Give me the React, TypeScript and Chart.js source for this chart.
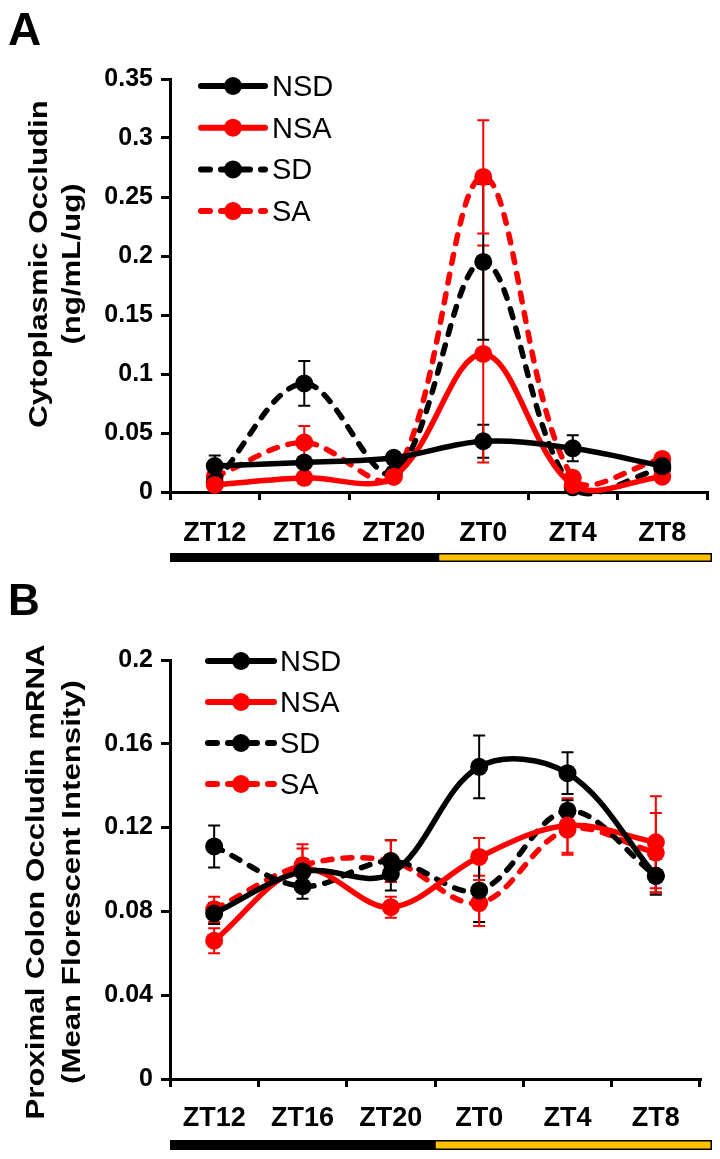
import React, { useEffect, useRef } from 'react';
import { Chart, registerables } from 'chart.js';
Chart.register(...registerables);

const FONT = "'Liberation Sans', Arial, Helvetica, sans-serif";

const categories = ['ZT12', 'ZT16', 'ZT20', 'ZT0', 'ZT4', 'ZT8'];
const seriesNames = ['NSD', 'NSA', 'SD', 'SA'];

// Panel A: Cytoplasmic Occludin (ng/mL/ug)
const aNSD = [0.022, 0.025, 0.029, 0.043, 0.037, 0.022];
const aNSDErr = [0.009, 0.004, 0.004, 0.014, 0.011, 0.004];
const aNSA = [0.006, 0.012, 0.013, 0.117, 0.006, 0.013];
const aNSAErr = [0.003, 0.003, 0.003, 0.092, 0.003, 0.003];
const aSD = [0.008, 0.092, 0.016, 0.195, 0.004, 0.02];
const aSDErr = [0.004, 0.019, 0.004, 0.066, 0.003, 0.004];
const aSA = [0.013, 0.042, 0.013, 0.267, 0.012, 0.028];
const aSAErr = [0.004, 0.014, 0.004, 0.048, 0.003, 0.004];
const aYTicks = ['0', '0.05', '0.1', '0.15', '0.2', '0.25', '0.3', '0.35'];

// Panel B: Proximal Colon Occludin mRNA (Mean Florescent Intensity)
const bNSD = [0.079, 0.099, 0.098, 0.149, 0.146, 0.097];
const bNSDErr = [0.005, 0.006, 0.008, 0.015, 0.01, 0.008];
const bNSA = [0.066, 0.1, 0.082, 0.106, 0.121, 0.113];
const bNSAErr = [0.006, 0.01, 0.005, 0.009, 0.013, 0.022];
const bSD = [0.111, 0.092, 0.104, 0.09, 0.128, 0.097];
const bSDErr = [0.01, 0.006, 0.01, 0.015, 0.005, 0.009];
const bSA = [0.081, 0.102, 0.104, 0.084, 0.119, 0.108];
const bSAErr = [0.006, 0.01, 0.01, 0.011, 0.012, 0.019];
const bYTicks = ['0', '0.04', '0.08', '0.12', '0.16', '0.2'];

const BLACK = '#000000';
const RED = '#ff0000';
const GOLD = '#ffc000';

const errorBarPlugin = {
  id: 'errorBars',
  beforeDatasetsDraw(chart: any) {
    const ctx = chart.ctx;
    const ys = chart.scales.y;
    chart.data.datasets.forEach((ds: any, i: number) => {
      const errs = ds.errors;
      if (!errs) return;
      const meta = chart.getDatasetMeta(i);
      ctx.save();
      ctx.strokeStyle = ds.borderColor;
      ctx.lineWidth = 2;
      ctx.setLineDash([]);
      meta.data.forEach((pt: any, j: number) => {
        const v = ds.data[j];
        const e = errs[j];
        const yt = ys.getPixelForValue(v + e);
        const yb = ys.getPixelForValue(v - e);
        ctx.beginPath();
        ctx.moveTo(pt.x, yt);
        ctx.lineTo(pt.x, yb);
        ctx.moveTo(pt.x - 6, yt);
        ctx.lineTo(pt.x + 6, yt);
        ctx.moveTo(pt.x - 6, yb);
        ctx.lineTo(pt.x + 6, yb);
        ctx.stroke();
      });
      ctx.restore();
    });
  },
};

const insideLegendPlugin = {
  id: 'insideLegend',
  afterDraw(chart: any, _args: any, opts: any) {
    const ctx = chart.ctx;
    const area = chart.chartArea;
    chart.data.datasets.forEach((ds: any, i: number) => {
      const y = area.top + opts.dyTop + i * opts.step;
      const x0 = area.left + opts.dxLine;
      const x1 = x0 + opts.lineLen;
      const xm = (x0 + x1) / 2;
      ctx.save();
      ctx.strokeStyle = ds.borderColor;
      ctx.lineWidth = 6;
      ctx.lineCap = 'round';
      ctx.setLineDash(ds.borderDash || []);
      ctx.beginPath();
      ctx.moveTo(x0, y);
      ctx.lineTo(x1, y);
      ctx.stroke();
      ctx.setLineDash([]);
      ctx.fillStyle = ds.borderColor;
      ctx.beginPath();
      ctx.arc(xm, y, 9, 0, Math.PI * 2);
      ctx.fill();
      ctx.fillStyle = '#000';
      ctx.font = `29px ${FONT}`;
      ctx.textAlign = 'left';
      ctx.textBaseline = 'alphabetic';
      ctx.fillText(ds.label, x1 + opts.textGap, y + 10);
      ctx.restore();
    });
  },
};

const dayNightPlugin = {
  id: 'dayNight',
  afterDraw(chart: any, _args: any, opts: any) {
    const ctx = chart.ctx;
    const xs = chart.scales.x;
    const left = xs.left;
    const right = xs.right + opts.ext;
    const mid = (xs.getPixelForValue(2) + xs.getPixelForValue(3)) / 2;
    const y = chart.chartArea.bottom + opts.offset;
    const h = opts.height;
    ctx.save();
    ctx.fillStyle = BLACK;
    ctx.fillRect(left, y, mid - left, h);
    ctx.fillStyle = GOLD;
    ctx.fillRect(mid, y, right - mid, h);
    ctx.strokeStyle = BLACK;
    ctx.lineWidth = 1.5;
    ctx.strokeRect(mid, y + 0.75, right - mid - 0.75, h - 1.5);
    ctx.restore();
  },
};

const yTitlePlugin = {
  id: 'yTitle',
  afterDraw(chart: any, _args: any, opts: any) {
    const ctx = chart.ctx;
    ctx.save();
    ctx.fillStyle = '#000';
    ctx.font = `bold 26px ${FONT}`;
    ctx.textAlign = 'center';
    ctx.textBaseline = 'alphabetic';
    opts.lines.forEach((line: string, i: number) => {
      ctx.save();
      ctx.translate(opts.baselines[i], opts.centerY);
      ctx.rotate(-Math.PI / 2);
      ctx.scale(opts.stretch, 1);
      ctx.fillText(line, 0, 0);
      ctx.restore();
    });
    ctx.restore();
  },
};

function makeDatasets(nsd: number[], nsdE: number[], nsa: number[], nsaE: number[], sd: number[], sdE: number[], sa: number[], saE: number[]) {
  const common = {
    borderWidth: 5.5,
    pointRadius: 9,
    pointHoverRadius: 9,
    pointBorderWidth: 0,
    tension: 0.35,
    clip: false as any,
    borderCapStyle: 'round' as any,
  };
  return [
    { ...common, label: seriesNames[0], data: nsd, errors: nsdE, borderColor: BLACK, backgroundColor: BLACK, pointBackgroundColor: BLACK },
    { ...common, label: seriesNames[1], data: nsa, errors: nsaE, borderColor: RED, backgroundColor: RED, pointBackgroundColor: RED },
    { ...common, label: seriesNames[2], data: sd, errors: sdE, borderColor: BLACK, backgroundColor: BLACK, pointBackgroundColor: BLACK, borderDash: [9, 11] },
    { ...common, label: seriesNames[3], data: sa, errors: saE, borderColor: RED, backgroundColor: RED, pointBackgroundColor: RED, borderDash: [9, 11] },
  ];
}

function makeConfig(p: any): any {
  return {
    type: 'line',
    data: { labels: categories, datasets: p.datasets },
    plugins: [errorBarPlugin, insideLegendPlugin, dayNightPlugin, yTitlePlugin],
    options: {
      responsive: false,
      animation: false,
      events: [],
      layout: { padding: { top: p.padTop, right: p.padRight, left: 0, bottom: 0 } },
      elements: { line: { capBezierPoints: false } },
      plugins: {
        legend: { display: false },
        tooltip: { enabled: false },
        insideLegend: p.legend,
        dayNight: p.bar,
        yTitle: p.title,
      },
      scales: {
        x: {
          offset: true,
          grid: { offset: true, drawOnChartArea: false, tickLength: 8, lineWidth: 3, color: BLACK },
          border: { width: 3, color: BLACK },
          ticks: { color: BLACK, font: { family: FONT, size: 27, weight: 'bold' }, padding: p.xPad, maxRotation: 0, autoSkip: false },
          afterFit: (s: any) => { s.height = p.xHeight; },
        },
        y: {
          min: 0,
          max: p.yMax,
          grid: { drawOnChartArea: false, tickLength: 9, lineWidth: 3, color: BLACK },
          border: { width: 3, color: BLACK },
          ticks: {
            stepSize: p.yStep,
            color: BLACK,
            padding: 8,
            font: { family: FONT, size: 25, weight: 'bold' },
            callback: (_v: any, i: number) => p.yTicks[i],
          },
          afterFit: (s: any) => { s.width = 170; },
        },
      },
    },
  };
}

function Panel({ config, top, height }: { config: any; top: number; height: number }) {
  const ref = useRef<HTMLCanvasElement | null>(null);
  useEffect(() => {
    if (!ref.current) return;
    const chart = new Chart(ref.current, config);
    return () => chart.destroy();
  }, []);
  return (
    <canvas
      ref={ref}
      width={720}
      height={height}
      style={{ position: 'absolute', left: 0, top, width: 720, height }}
    />
  );
}

export default function App() {
  const configA = makeConfig({
    datasets: makeDatasets(aNSD, aNSDErr, aNSA, aNSAErr, aSD, aSDErr, aSA, aSAErr),
    padTop: 79,
    padRight: 13,
    xHeight: 88,
    xPad: 17,
    yMax: 0.35,
    yStep: 0.05,
    yTicks: aYTicks,
    legend: { dyTop: 7, step: 41.7, dxLine: 31, lineLen: 64, textGap: 7 },
    bar: { offset: 61, height: 9, ext: 5 },
    title: { lines: ['Cytoplasmic Occludin', '(ng/mL/ug)'], baselines: [47, 80], centerY: 264, stretch: 1.2 },
  });
  const configB = makeConfig({
    datasets: makeDatasets(bNSD, bNSDErr, bNSA, bNSAErr, bSD, bSDErr, bSA, bSAErr),
    padTop: 80,
    padRight: 20,
    xHeight: 80,
    xPad: 15,
    yMax: 0.2,
    yStep: 0.04,
    yTicks: bYTicks,
    legend: { dyTop: 1, step: 41, dxLine: 38, lineLen: 66, textGap: 6 },
    bar: { offset: 61, height: 10, ext: 12 },
    title: { lines: ['Proximal Colon Occludin mRNA', '(Mean Florescent Intensity)'], baselines: [44, 80], centerY: 302, stretch: 1.2 },
  });
  const letter = (t: string, top: number, size: number) => (
    <div
      style={{
        position: 'absolute',
        left: 8,
        top,
        fontFamily: FONT,
        fontWeight: 'bold',
        fontSize: size,
        lineHeight: `${size}px`,
        color: '#000',
      }}
    >
      {t}
    </div>
  );
  return (
    <div style={{ position: 'absolute', left: 0, top: 0, width: 720, height: 1159, background: '#fff', overflow: 'hidden' }}>
      <Panel config={configA} top={0} height={580} />
      <Panel config={configB} top={580} height={579} />
      {letter('A', 6, 46)}
      {letter('B', 578, 44)}
    </div>
  );
}
